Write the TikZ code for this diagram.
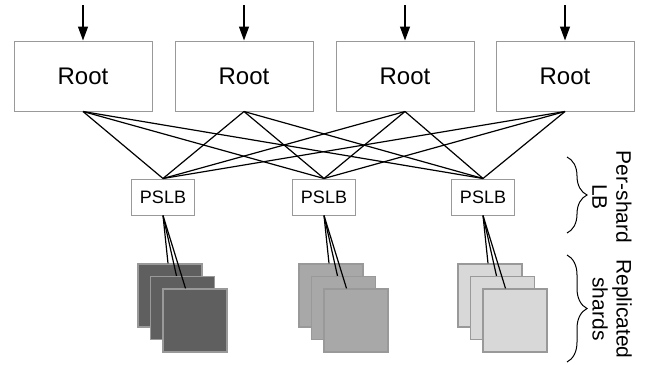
\documentclass[tikz,border=0pt]{standalone}
\usepackage{fontspec}
\setmainfont{Liberation Sans}
\usetikzlibrary{arrows.meta,decorations.pathreplacing}
\definecolor{boxgray}{HTML}{999999}
\definecolor{sharddark}{HTML}{5F5F5F}
\definecolor{shardmid}{HTML}{A8A8A8}
\definecolor{shardlight}{HTML}{D8D8D8}
\begin{document}
\begin{tikzpicture}
[x=0.5pt,y=-0.5pt,%
  rootdecorate/.style={shape=rectangle,draw=boxgray,line width=0.5pt,fill=white,%
    minimum width=69pt,minimum height=35pt,inner sep=0pt,font=\fontsize{12}{14}\selectfont},%
  lbdecorate/.style={shape=rectangle,draw=boxgray,line width=0.5pt,fill=white,%
    minimum width=31.5pt,minimum height=18pt,inner sep=0pt,font=\fontsize{9}{11}\selectfont},%
  sharddecorate/.style={shape=rectangle,draw=boxgray,line width=0.6pt,fill=#1,%
    minimum width=32pt,minimum height=31.5pt,inner sep=0pt},%
  linedecorate/.style={-,line width=0.6pt},%
  arrowdecorate/.style={-{Triangle[length=7pt,width=5pt]},line width=0.65pt},%
  bracedecorate/.style={decorate,decoration={brace,amplitude=10pt},line width=0.5pt},%
  labeldecorate/.style={rotate=-90,align=center,inner sep=0pt,font=\fontsize{10.5}{12}\selectfont}]
\useasboundingbox (0,0) rectangle (646,364);
%% roots with incoming requests
\foreach \n/\x in {1/83, 2/244, 3/405, 4/565}
{
  \node (root\n) at (\x,76) [rootdecorate] {Root};
  \coordinate (in\n) at (\x,5);
  \draw[arrowdecorate] (in\n) -- (root\n.north);
}
%% per-shard load balancers and their replicas
\foreach \n/\x/\shade in {1/163/sharddark, 2/324/shardmid, 3/483/shardlight}
{
  \node (lb\n) at (\x,197) [lbdecorate] {PSLB};
  \node (backshard\n) at (\x+7,295.5) [sharddecorate=\shade] {};
  \node (midshard\n) at (\x+19.5,308) [sharddecorate=\shade] {};
  \node (frontshard\n) at (\x+32,320.5) [sharddecorate=\shade] {};
  \draw[linedecorate] (lb\n.south) -- ([xshift=-1pt]backshard\n.north);
  \draw[linedecorate] (lb\n.south) -- ([xshift=-3pt]midshard\n.north);
  \draw[linedecorate] (lb\n.south) -- ([xshift=-4.75pt]frontshard\n.north);
}
%% every root talks to every PSLB
\foreach \r in {1,...,4}
  \foreach \l in {1,2,3}
    \draw[linedecorate] (root\r.south) -- (lb\l.north);
%% braces and labels
\coordinate (lbtop) at (567,157);
\coordinate (lbbottom) at (567,233);
\coordinate (shardtop) at (567,255);
\coordinate (shardbottom) at (567,362);
\draw[bracedecorate] (lbtop) -- (lbbottom);
\draw[bracedecorate] (shardtop) -- (shardbottom);
\node (lblabel) at (612,197) [labeldecorate] {Per-shard\\LB};
\node (shardlabel) at (612,309) [labeldecorate] {Replicated\\shards};
\end{tikzpicture}
\end{document}
